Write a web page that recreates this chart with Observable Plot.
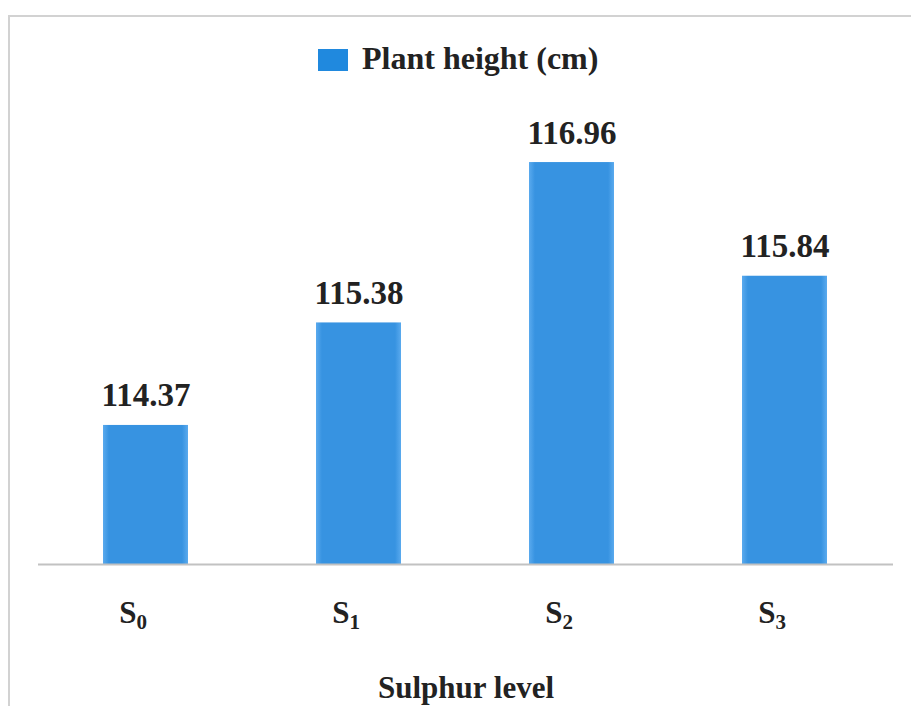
<!DOCTYPE html>
<html>
<head>
<meta charset="utf-8">
<script src="https://cdn.jsdelivr.net/npm/d3@7"></script>
<script src="https://cdn.jsdelivr.net/npm/@observablehq/plot@0.6"></script>
<style>
  body { margin: 0; background: #fff; }
  #chart { position: relative; width: 911px; height: 706px; overflow: hidden;
           font-family: "Liberation Serif", "Times New Roman", serif; }
  #frame { position: absolute; left: 8px; top: 15px; width: 930px; height: 720px;
           border: 2px solid #d2d2d2; box-sizing: border-box; }
  #legend { position: absolute; top: 42px; left: 318px; display: flex; align-items: center; }
  #legend .swatch { width: 30px; height: 22px; margin-right: 14px; margin-top: 3px; }
  #legend .label { font-size: 32px; font-weight: bold; color: #222; line-height: 1; }
  #plot { position: absolute; left: 0; top: 90px; }
</style>
</head>
<body>
<div id="chart">
  <div id="frame"></div>
  <div id="legend"><div class="swatch"></div><div class="label"></div></div>
  <div id="plot"></div>
</div>
<script>
// Sulphur levels (base letter + subscript digit) and mean plant height
const levels = ["S0", "S1", "S2", "S3"];
const levelBase = ["S", "S", "S", "S"];
const levelSub = ["0", "1", "2", "3"];
const heights = [114.37, 115.38, 116.96, 115.84];
const seriesName = "Plant height (cm)";
const xTitle = "Sulphur level";
const barColor = "#3793e1";

const rows = levels.map((k, i) => ({level: k, height: heights[i]}));

document.querySelector("#legend .swatch").style.background = "#2089de";
document.querySelector("#legend .label").textContent = seriesName;

const yBase = 113;

const chart = Plot.plot({
  width: 911,
  height: 616,
  marginLeft: 38,
  marginRight: 18,
  marginTop: 68,
  marginBottom: 142,
  style: {fontFamily: "'Liberation Serif', 'Times New Roman', serif", background: "transparent", color: "#222"},
  x: {domain: levels, paddingInner: 0.6, paddingOuter: 0.3, label: null},
  y: {domain: [yBase, 117], axis: null},
  marks: [
    Plot.barY(rows, {x: "level", y1: yBase, y2: "height", fill: "url(#barGrad)"}),
    Plot.ruleY([yBase], {stroke: "#c2c2c2", strokeWidth: 2}),
    Plot.text(rows, {
      x: "level", y: "height", text: d => d.height.toFixed(2),
      lineAnchor: "bottom", dy: -19, fontSize: 33, fontWeight: "bold", fill: "#222"
    }),
    Plot.axisX({tickSize: 0, tickPadding: 36, dx: -13, fontSize: 31, fontWeight: "bold", fill: "#222", label: null}),
    Plot.text([xTitle], {
      frameAnchor: "bottom", dy: 133, lineAnchor: "bottom",
      fontSize: 31, fontWeight: "bold", fill: "#222"
    })
  ]
});

// gradient giving the bars their slightly lighter edges
const svg = d3.select(chart);
const grad = svg.insert("defs", ":first-child").append("linearGradient")
  .attr("id", "barGrad").attr("x1", 0).attr("x2", 1).attr("y1", 0).attr("y2", 0);
[[0, "#5aaaee"], [0.07, barColor], [0.93, barColor], [1, "#5aaaee"]].forEach(([o, c]) =>
  grad.append("stop").attr("offset", o).attr("stop-color", c));

// subscript digits on the tick labels
svg.selectAll("g[aria-label='x-axis tick label']").attr("font-size", 31);
svg.selectAll("g[aria-label='x-axis tick label'] text").each(function(d, i) {
  const idx = levels.indexOf(typeof d === "string" ? d : this.textContent);
  const t = d3.select(this).attr("font-size", 31);
  t.text(null);
  t.append("tspan").text(levelBase[idx]);
  t.append("tspan").attr("font-size", 21).attr("dy", 6).text(levelSub[idx]);
});

document.getElementById("plot").appendChild(chart);
</script>
</body>
</html>
